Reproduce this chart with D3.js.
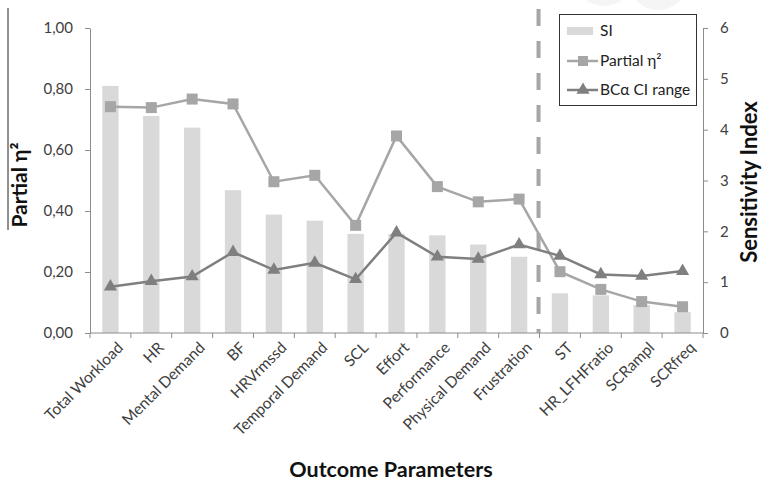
<!DOCTYPE html>
<html>
<head>
<meta charset="utf-8">
<script src="https://cdn.jsdelivr.net/npm/d3@7"></script>
<style>
  html, body { margin: 0; padding: 0; background: #fff; }
  svg { display: block; font-family: Lato, "Open Sans", sans-serif; }
</style>
</head>
<body>
<svg id="chart" width="764" height="481"></svg>
<script>
// Outcome parameters in display order
const categories = ["Total Workload", "HR", "Mental Demand", "BF", "HRVrmssd", "Temporal Demand",
  "SCL", "Effort", "Performance", "Physical Demand", "Frustration", "ST", "HR_LFHFratio", "SCRampl", "SCRfreq"];

// Sensitivity index (right axis)
const siValues = [4.86, 4.27, 4.04, 2.81, 2.33, 2.21, 1.95, 1.95, 1.92, 1.74, 1.50, 0.78, 0.74, 0.55, 0.41];

// Partial eta squared (left axis)
const etaValues = [0.742, 0.739, 0.767, 0.751, 0.496, 0.517, 0.353, 0.646, 0.480, 0.430, 0.439, 0.201, 0.143, 0.103, 0.086];

// Width of the BCa confidence interval (left axis)
const ciRange = [0.152, 0.170, 0.185, 0.265, 0.207, 0.230, 0.176, 0.329, 0.250, 0.243, 0.290, 0.253, 0.192, 0.187, 0.203];

const leftTicks = [0, 0.2, 0.4, 0.6, 0.8, 1.0];
const rightTicks = [0, 1, 2, 3, 4, 5, 6];

// Parameters from this one onwards sit right of the dashed divider
const dividerBefore = "ST";

const svg = d3.select("#chart");

const x = d3.scaleBand().domain(categories).range([90, 703]).padding(0);
const yLeft = d3.scaleLinear().domain([0, 1]).range([333, 28]);
const yRight = d3.scaleLinear().domain([0, 6]).range([333, 28]);

const axisColor = "#8c8c8c";
const textColor = "#404040";
const barColor = "#d9d9d9";
const etaColor = "#a6a6a6";
const ciColor = "#7f7f7f";

const fmtComma = v => d3.format(".2f")(v).replace(".", ",");

// faint background decoration at the top edge
svg.append("g").attr("fill", "#f5f5f5")
  .selectAll("circle").data([[604, -24], [658, -20]]).join("circle")
  .attr("cx", d => d[0]).attr("cy", d => d[1]).attr("r", 30);

// SI bars
const bw = x.bandwidth() * 0.4;
svg.append("g").selectAll("rect").data(categories).join("rect")
  .attr("x", (c) => x(c) + x.bandwidth() / 2 - bw / 2)
  .attr("width", bw)
  .attr("y", (c, i) => yRight(siValues[i]))
  .attr("height", (c, i) => yRight(0) - yRight(siValues[i]))
  .attr("fill", barColor);

// Left axis
const gL = svg.append("g").attr("transform", "translate(90,0)")
  .call(d3.axisLeft(yLeft).tickValues(leftTicks).tickFormat(fmtComma).tickSize(5).tickSizeOuter(0).tickPadding(12));
// Right axis
const gR = svg.append("g").attr("transform", "translate(703,0)")
  .call(d3.axisRight(yRight).tickValues(rightTicks).tickFormat(d3.format("d")).tickSize(5).tickSizeOuter(0).tickPadding(12));
[gL, gR].forEach(g => {
  g.select(".domain").attr("stroke", axisColor);
  g.selectAll(".tick line").attr("stroke", axisColor);
  g.selectAll(".tick text").attr("fill", textColor).attr("font-size", 15).attr("font-family", "Lato, 'Open Sans', sans-serif");
});

// Bottom axis with ticks on category boundaries
const edges = categories.map(c => x(c)).concat([x.range()[1]]);
const gB = svg.append("g");
gB.append("line").attr("x1", 90).attr("x2", 703).attr("y1", 333).attr("y2", 333).attr("stroke", axisColor);
gB.selectAll("line.edge").data(edges).join("line").attr("class", "edge")
  .attr("x1", d => d).attr("x2", d => d).attr("y1", 333).attr("y2", 338).attr("stroke", axisColor);
gB.selectAll("text").data(categories).join("text")
  .attr("transform", c => `translate(${x(c) + x.bandwidth() / 2 + 6},341) rotate(-45)`)
  .attr("text-anchor", "end").attr("dy", "0.7em")
  .attr("font-size", 15.5).attr("fill", textColor)
  .text(c => c);

// Dashed divider
const xd = x(dividerBefore) - 1;
svg.append("line").attr("x1", xd).attr("x2", xd).attr("y1", 9).attr("y2", 333)
  .attr("stroke", "#a6a6a6").attr("stroke-width", 4).attr("stroke-dasharray", "17,15");

// Lines
const cx = c => x(c) + x.bandwidth() / 2;
const etaLine = d3.line().x((d, i) => cx(categories[i])).y(d => yLeft(d));
svg.append("path").datum(etaValues).attr("d", etaLine)
  .attr("fill", "none").attr("stroke", etaColor).attr("stroke-width", 2.5);
svg.append("g").selectAll("rect").data(etaValues).join("rect")
  .attr("x", (d, i) => cx(categories[i]) - 5.5).attr("y", d => yLeft(d) - 5.5)
  .attr("width", 11).attr("height", 11).attr("fill", etaColor);

const ciLine = d3.line().x((d, i) => cx(categories[i])).y(d => yLeft(d));
svg.append("path").datum(ciRange).attr("d", ciLine)
  .attr("fill", "none").attr("stroke", ciColor).attr("stroke-width", 2.5);
const tri = d3.symbol().type(d3.symbolTriangle).size(75);
svg.append("g").selectAll("path").data(ciRange).join("path")
  .attr("transform", (d, i) => `translate(${cx(categories[i])},${yLeft(d)})`)
  .attr("d", tri).attr("fill", ciColor);

// Axis titles
svg.append("text").attr("transform", "translate(27,185) rotate(-90)")
  .attr("text-anchor", "middle").attr("font-size", 21).attr("font-weight", "bold").attr("fill", "#111")
  .text("Partial η²");
svg.append("line").attr("x1", 8).attr("x2", 8).attr("y1", 8).attr("y2", 230).attr("stroke", "#222").attr("stroke-width", 1);
svg.append("text").attr("transform", "translate(757,182) rotate(-90)")
  .attr("text-anchor", "middle").attr("font-size", 22).attr("font-weight", "bold").attr("fill", "#111")
  .text("Sensitivity Index");
svg.append("text").attr("x", 391).attr("y", 477)
  .attr("text-anchor", "middle").attr("font-size", 21.5).attr("font-weight", "bold").attr("fill", "#111")
  .text("Outcome Parameters");

// Legend
const lg = svg.append("g");
lg.append("rect").attr("x", 559.5).attr("y", 14.5).attr("width", 137).attr("height", 91)
  .attr("fill", "#fff").attr("stroke", "#333").attr("stroke-width", 1);
const legendItems = [
  { label: "SI", kind: "bar", y: 31 },
  { label: "Partial η²", kind: "eta", y: 61 },
  { label: "BCα CI range", kind: "ci", y: 90 }
];
legendItems.forEach(it => {
  if (it.kind === "bar") {
    lg.append("rect").attr("x", 567).attr("y", it.y - 4).attr("width", 26).attr("height", 8).attr("fill", barColor);
  } else {
    const col = it.kind === "eta" ? etaColor : ciColor;
    lg.append("line").attr("x1", 567).attr("x2", 598).attr("y1", it.y).attr("y2", it.y)
      .attr("stroke", col).attr("stroke-width", 2.5);
    if (it.kind === "eta") {
      lg.append("rect").attr("x", 578).attr("y", it.y - 5).attr("width", 10).attr("height", 10).attr("fill", col);
    } else {
      lg.append("path").attr("transform", `translate(583,${it.y})`).attr("d", tri).attr("fill", col);
    }
  }
  lg.append("text").attr("x", 600).attr("y", it.y).attr("dy", "0.35em")
    .attr("font-size", 15.5).attr("fill", "#222").text(it.label);
});
</script>
</body>
</html>
